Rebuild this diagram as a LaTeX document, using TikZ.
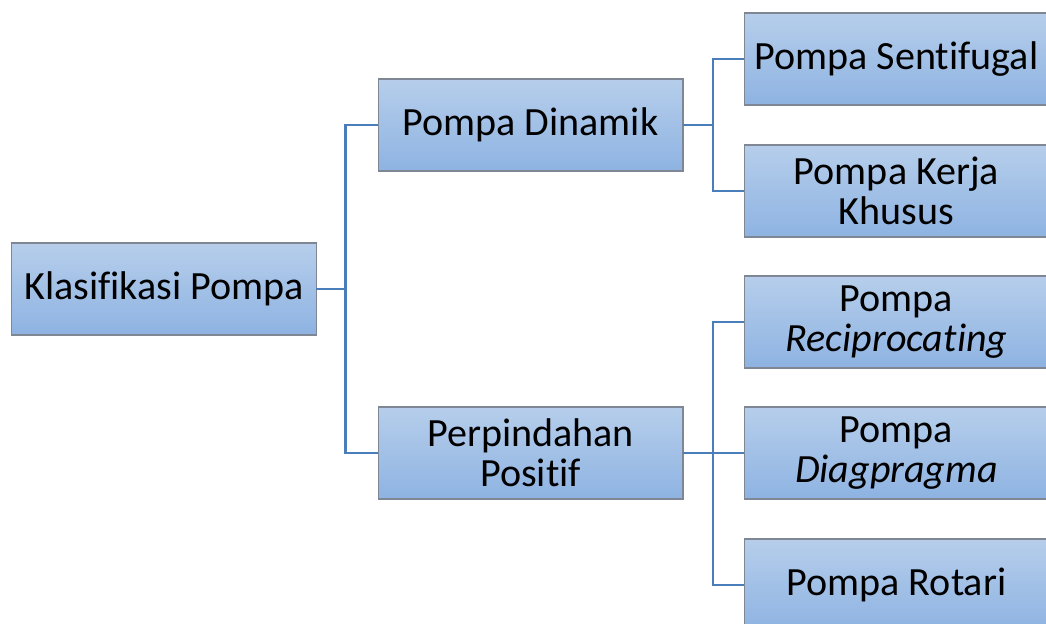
\documentclass[tikz,border=0pt]{standalone}
\usepackage{fontspec}
\setmainfont{Carlito}[Ligatures=NoCommon]
\usepackage{tikz}
\usetikzlibrary{positioning}
\definecolor{boxtop}{HTML}{B6CEEB}
\definecolor{boxbot}{HTML}{8EB3E2}
\definecolor{boxline}{HTML}{7F8795}
\definecolor{connblue}{HTML}{4A7EBB}

\begin{document}
\begin{tikzpicture}[x=0.02cm, y=-0.02cm,
  pbox/.style={draw=boxline, line width=0.6pt, top color=boxtop, bottom color=boxbot,
               minimum width=6.1cm, minimum height=1.84cm, align=center,
               outer sep=0pt, inner sep=2pt, font=\fontsize{22.8}{22.7}\selectfont},
  conn/.style={draw=connblue, line width=1.6pt},
]
\clip (0,0) rectangle (1046,624);
% root
\node[pbox] (root) at (164,289) {Klasifikasi Pompa};
% level 1
\node[pbox] (dinamik) at (530.5,125) {Pompa Dinamik};
\node[pbox] (positif) at (530.5,453) {Perpindahan\\Positif};
% level 2
\node[pbox] (senti)  at (896.5,59)  {Pompa Sentifugal};
\node[pbox] (khusus) at (896.5,191) {Pompa Kerja\\Khusus};
\node[pbox] (recip)  at (896.5,322) {Pompa\\\textit{Reciprocating}};
\node[pbox] (diag)   at (896.5,453) {Pompa\\\textit{Diagpragma}};
\node[pbox] (rotari) at (896.5,585) {Pompa Rotari};
% connectors
\draw[conn] (root.east) -- ++(29,0) |- (dinamik.west);
\draw[conn] (root.east) -- ++(29,0) |- (positif.west);
\draw[conn] (dinamik.east) -- ++(30,0) |- (senti.west);
\draw[conn] (dinamik.east) -- ++(30,0) |- (khusus.west);
\draw[conn] (positif.east) -- ++(30,0) |- (recip.west);
\draw[conn] (positif.east) -- (diag.west);
\draw[conn] (positif.east) -- ++(30,0) |- (rotari.west);
\end{tikzpicture}
\end{document}
